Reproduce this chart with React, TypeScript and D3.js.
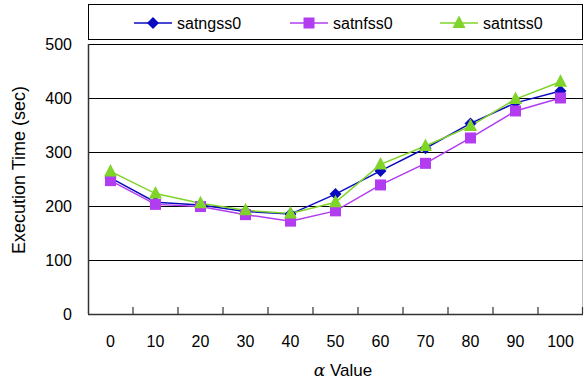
import React from "react";
import * as d3 from "d3";

const categories = ["0", "10", "20", "30", "40", "50", "60", "70", "80", "90", "100"];
const satngss0 = [252, 207, 202, 190, 185, 222, 265, 307, 353, 391, 413];
const satnfss0 = [247, 203, 199, 184, 172, 191, 239, 279, 326, 376, 400];
const satntss0 = [264, 223, 205, 192, 186, 207, 277, 311, 348, 398, 430];
const yTicks = [0, 100, 200, 300, 400, 500];
const seriesNames = ["satngss0", "satnfss0", "satntss0"];
const seriesColors = ["#0a0ac0", "#b23cf0", "#7fd42a"];

const W = 586, H = 379;
const left = 88, right = 583, top = 44, bottom = 314;

function Marker({ kind, x, y, color }: { kind: number; x: number; y: number; color: string }) {
  if (kind === 0) {
    const s = 6;
    return <path d={`M${x},${y - s}L${x + s},${y}L${x},${y + s}L${x - s},${y}Z`} fill={color} />;
  }
  if (kind === 1) {
    return <rect x={x - 5.5} y={y - 5.5} width={11} height={11} fill={color} />;
  }
  return <path d={`M${x},${y - 7.5}L${x + 6.5},${y + 5}L${x - 6.5},${y + 5}Z`} fill={color} />;
}

export default function App() {
  const x = d3.scaleBand<string>().domain(categories).range([left, right]);
  const y = d3.scaleLinear().domain([0, 500]).range([bottom, top]);
  const data = [satngss0, satnfss0, satntss0];
  const line = (vals: number[]) =>
    d3.line<number>().x((_, i) => x(categories[i])! + x.bandwidth() / 2).y((d) => y(d))(vals) || "";
  const font = "'Liberation Sans', Arial, sans-serif";
  const legendX = [134, 290, 440];
  return (
    <svg width={W} height={H} style={{ position: "absolute", left: 0, top: 0 }} fontFamily={font}>
      <rect width={W} height={H} fill="#fff" />
      {/* legend */}
      <rect x={88.5} y={4.5} width={494} height={35} fill="#fff" stroke="#000" strokeWidth={1} />
      {seriesNames.map((n, k) => (
        <g key={n}>
          <line x1={legendX[k]} x2={legendX[k] + 38} y1={23} y2={23} stroke={seriesColors[k]} strokeWidth={1.5} />
          <Marker kind={k} x={legendX[k] + 19} y={23} color={seriesColors[k]} />
          <text x={legendX[k] + 43} y={29} fontSize={16} fill="#000">{n}</text>
        </g>
      ))}
      {/* plot frame */}
      <line x1={right - 0.5} x2={right - 0.5} y1={top} y2={bottom} stroke="#bbb" />
      {yTicks.map((t) => (
        <g key={t}>
          {t > 0 && <line x1={left} x2={right} y1={Math.round(y(t)) + 0.5} y2={Math.round(y(t)) + 0.5} stroke="#000" strokeWidth={1.2} />}
          <text x={72} y={y(t) + 6} fontSize={16} textAnchor="end" fill="#000">{t}</text>
        </g>
      ))}
      <line x1={left + 0.5} x2={left + 0.5} y1={top} y2={bottom} stroke="#333" strokeWidth={1.5} />
      <line x1={left} x2={right} y1={bottom + 0.5} y2={bottom + 0.5} stroke="#333" strokeWidth={1.5} />
      {categories.slice(1).map((c) => (
        <line key={c} x1={x(c)!} x2={x(c)!} y1={bottom} y2={bottom - 7} stroke="#333" strokeWidth={1.2} />
      ))}
      <line x1={right - 0.5} x2={right - 0.5} y1={bottom} y2={bottom - 7} stroke="#333" strokeWidth={1.2} />
      {categories.map((c) => (
        <text key={c} x={x(c)! + x.bandwidth() / 2} y={347} fontSize={16} textAnchor="middle" fill="#000">{c}</text>
      ))}
      {/* series */}
      {data.map((vals, k) => (
        <path key={k} d={line(vals)} fill="none" stroke={seriesColors[k]} strokeWidth={1.5} />
      ))}
      {data.map((vals, k) =>
        vals.map((v, i) => (
          <Marker key={`${k}-${i}`} kind={k} x={x(categories[i])! + x.bandwidth() / 2} y={y(v)} color={seriesColors[k]} />
        ))
      )}
      {/* axis titles */}
      <text x={343} y={376} fontSize={17} textAnchor="middle" fill="#000">
        <tspan fontFamily="'DejaVu Serif', serif" fontStyle="italic">α</tspan> Value
      </text>
      <text transform={`translate(25,170) rotate(-90)`} fontSize={18} textAnchor="middle" fill="#000">
        Execution Time (sec)
      </text>
    </svg>
  );
}
